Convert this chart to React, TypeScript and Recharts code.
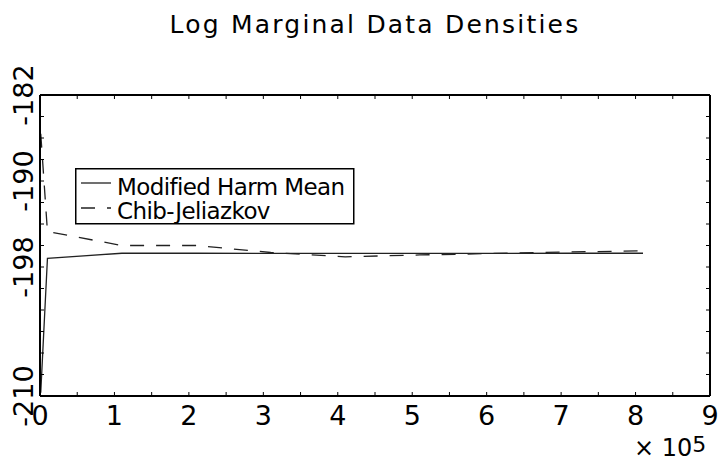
import React from 'react';
import { LineChart, Line, XAxis, YAxis, Legend } from 'recharts';

const chartTitle = 'Log Marginal Data Densities';
const seriesNames = ['Modified Harm Mean', 'Chib-Jeliazkov'];
const xValues = [1000, 10000, 110000, 210000, 310000, 410000, 510000, 610000, 710000, 810000];
const harmMean = [-209.7, -197.2, -196.72, -196.72, -196.73, -196.74, -196.73, -196.73, -196.72, -196.72];
const chibJeliazkov = [-185.6, -194.7, -196.0, -196.0, -196.65, -197.05, -196.88, -196.74, -196.6, -196.5];
const xTicks = [0, 50000, 100000, 150000, 200000, 250000, 300000, 350000, 400000, 450000, 500000, 550000, 600000, 650000, 700000, 750000, 800000, 850000, 900000];
const yTicks = [-210, -208, -206, -204, -202, -200, -198, -196, -194, -192, -190, -188, -186, -184, -182];
const yLabeled = [-210, -198, -190, -182];
const xScaleLabel = '× 10';
const xScaleExp = '5';

const data = xValues.map((x, i) => ({ x, harm: harmMean[i], chib: chibJeliazkov[i] }));

const FONT = '"DejaVu Sans", sans-serif';
const TICK_LEN = 4;

const BottomTick = (props: any) => {
  const { x, y, payload } = props;
  const v = payload.value;
  const label = v % 100000 === 0 ? String(v / 100000) : '';
  return (
    <g>
      <line x1={x} y1={y} x2={x} y2={y - TICK_LEN} stroke="#000" strokeWidth={1} />
      {label && (
        <text x={x} y={y + 29} textAnchor="middle" fontFamily={FONT} fontSize={27} fill="#000">
          {label}
        </text>
      )}
    </g>
  );
};

const TopTick = (props: any) => {
  const { x, y } = props;
  return <line x1={x} y1={y} x2={x} y2={y + TICK_LEN} stroke="#000" strokeWidth={1} />;
};

const LeftTick = (props: any) => {
  const { x, y, payload } = props;
  const v = payload.value;
  const show = yLabeled.includes(v);
  return (
    <g>
      <line x1={x} y1={y} x2={x + TICK_LEN} y2={y} stroke="#000" strokeWidth={1} />
      {show && (
        <text
          x={x - 7}
          y={y}
          transform={`rotate(-90, ${x - 7}, ${y})`}
          textAnchor="middle"
          fontFamily={FONT}
          fontSize={27}
          fill="#000"
        >
          {String(v)}
        </text>
      )}
    </g>
  );
};

const RightTick = (props: any) => {
  const { x, y } = props;
  return <line x1={x} y1={y} x2={x - TICK_LEN} y2={y} stroke="#000" strokeWidth={1} />;
};

const LegendBox = () => (
  <svg width={280} height={57} style={{ display: 'block' }}>
    <rect x={0.75} y={0.75} width={278} height={55} fill="#fff" stroke="#000" strokeWidth={1.5} />
    <line x1={6} y1={15} x2={36} y2={15} stroke="#222" strokeWidth={1.3} />
    <text x={42} y={27} fontFamily={FONT} fontSize={23} letterSpacing={-0.6} fill="#000">
      {seriesNames[0]}
    </text>
    <line x1={6} y1={40} x2={36} y2={40} stroke="#222" strokeWidth={1.3} strokeDasharray="14 12" />
    <text x={42} y={51} fontFamily={FONT} fontSize={23} letterSpacing={-0.6} fill="#000">
      {seriesNames[1]}
    </text>
  </svg>
);

export default function App() {
  return (
    <div style={{ position: 'absolute', left: 0, top: 0, width: 719, height: 462, background: '#fff' }}>
      <LineChart width={719} height={462} data={data} margin={{ top: 90, right: 4, bottom: 0, left: 0 }}>
        <XAxis
          dataKey="x"
          type="number"
          domain={[0, 900000]}
          ticks={xTicks}
          interval={0}
          height={66}
          tickSize={0}
          tickMargin={0}
          tickLine={false}
          axisLine={{ stroke: '#000', strokeWidth: 2 }}
          tick={<BottomTick />}
          allowDataOverflow
        />
        <XAxis
          xAxisId="top"
          orientation="top"
          dataKey="x"
          type="number"
          domain={[0, 900000]}
          ticks={xTicks}
          interval={0}
          height={5}
          tickSize={0}
          tickMargin={0}
          tickLine={false}
          axisLine={{ stroke: '#000', strokeWidth: 2 }}
          tick={<TopTick />}
          allowDataOverflow
        />
        <YAxis
          type="number"
          domain={[-210, -182]}
          ticks={yTicks}
          interval={0}
          width={40}
          tickSize={0}
          tickMargin={0}
          tickLine={false}
          axisLine={{ stroke: '#000', strokeWidth: 2 }}
          tick={<LeftTick />}
          allowDataOverflow
        />
        <YAxis
          yAxisId="right"
          orientation="right"
          type="number"
          domain={[-210, -182]}
          ticks={yTicks}
          interval={0}
          width={5}
          tickSize={0}
          tickMargin={0}
          tickLine={false}
          axisLine={{ stroke: '#000', strokeWidth: 2 }}
          tick={<RightTick />}
          allowDataOverflow
        />
        <Legend
          layout="horizontal"
          verticalAlign="middle"
          align="center"
          content={() => <LegendBox />}
          wrapperStyle={{ left: 75, top: 168, width: 280, height: 57 }}
        />
        <Line
          dataKey="harm"
          name={seriesNames[0]}
          stroke="#222"
          strokeWidth={1.3}
          dot={false}
          activeDot={false}
          isAnimationActive={false}
        />
        <Line
          dataKey="chib"
          name={seriesNames[1]}
          stroke="#222"
          strokeWidth={1.3}
          strokeDasharray="14 12"
          dot={false}
          activeDot={false}
          isAnimationActive={false}
        />
      </LineChart>
      <svg
        width={719}
        height={462}
        style={{ position: 'absolute', left: 0, top: 0, pointerEvents: 'none' }}
      >
        <text x={375} y={33} textAnchor="middle" fontFamily={FONT} fontSize={25} letterSpacing={2.2} fill="#000">
          {chartTitle}
        </text>
        <text x={634} y={456} fontFamily={FONT} fontSize={24} fill="#000">
          {xScaleLabel}
          <tspan fontSize={22} dy={-4}>{xScaleExp}</tspan>
        </text>
      </svg>
    </div>
  );
}
